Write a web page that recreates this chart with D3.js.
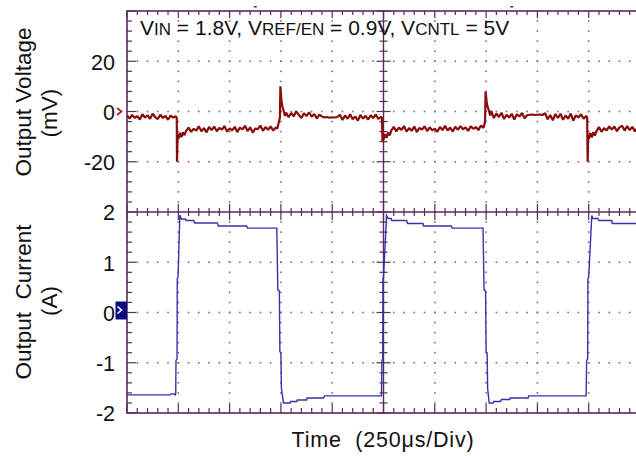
<!DOCTYPE html>
<html>
<head>
<meta charset="utf-8">
<script src="https://cdn.jsdelivr.net/npm/d3@7"></script>
<style>
body { margin: 0; background: #fff; }
svg { display: block; font-family: "Liberation Sans", Arial, sans-serif; }
</style>
</head>
<body>
<div id="chart"></div>
<script>
// time in divisions (250us/div), output voltage in mV
const voltage = [
  [0,-1.6],[0.05,-2.8],[0.1,-1.4],[0.15,-2.5],[0.2,-1.9],[0.25,-3.2],[0.3,-1.1],[0.35,-2.4],[0.4,-1.5],[0.45,-2.9],
  [0.5,-0.9],[0.55,-2.2],[0.6,-3.0],[0.65,-1.3],[0.7,-2.6],[0.75,-1.7],[0.8,-3.3],[0.85,-1.6],[0.9,-2.4],[0.95,-1.9],
  [0.97,-2.5],[0.975,-20],[0.985,-9],[1.0,-11],[1.03,-8.5],[1.06,-10.2],[1.09,-8.3],[1.12,-9.4],
  [1.15,-7.8],[1.2,-6.4],[1.25,-8.1],[1.3,-6.9],[1.35,-7.6],[1.4,-5.9],[1.45,-7.9],[1.5,-6.6],[1.55,-8.3],[1.6,-6.2],
  [1.65,-7.4],[1.7,-6.0],[1.75,-7.9],[1.8,-6.5],[1.85,-7.2],[1.9,-5.8],[1.95,-8.0],[2.0,-6.7],[2.05,-7.5],[2.1,-6.1],
  [2.15,-8.2],[2.2,-6.4],[2.25,-7.1],[2.3,-5.7],[2.35,-7.8],[2.4,-6.3],[2.45,-8.4],[2.5,-6.8],[2.55,-7.0],[2.6,-5.6],
  [2.65,-7.7],[2.7,-6.2],[2.75,-7.3],[2.8,-5.9],[2.85,-7.6],[2.9,-6.4],
  [2.93,-6.8],[2.96,-4.2],[2.98,-2.5],[2.99,10],[3.01,4.5],[3.03,2.0],[3.05,0.5],[3.08,-1.8],
  [3.1,-0.4],[3.15,-2.3],[3.2,-0.6],[3.25,-1.9],[3.3,0.1],[3.35,-1.4],[3.4,-2.6],[3.45,-0.7],[3.5,-1.8],[3.55,-0.3],
  [3.6,-2.1],[3.65,-1.0],[3.7,-2.8],[3.75,-1.2],[3.8,-2.0],[3.85,-2.4],[3.9,-2.2],[3.95,-2.5],[4.0,-2.3],[4.05,-2.4],
  [4.1,-2.2],[4.15,-1.3],[4.2,-3.4],[4.25,-1.6],[4.3,-2.9],[4.35,-1.1],[4.4,-3.1],[4.45,-2.0],[4.5,-3.6],[4.55,-1.4],
  [4.6,-2.8],[4.65,-1.7],[4.7,-3.2],[4.75,-1.5],[4.8,-2.6],[4.85,-1.2],[4.9,-3.0],[4.95,-2.1],
  [4.97,-2.5],[4.98,-12],[4.99,-8.5],[5.0,-11.2],[5.03,-9],[5.06,-10.5],[5.09,-8.4],[5.12,-9.5],
  [5.15,-7.6],[5.2,-6.1],[5.25,-7.9],[5.3,-6.4],[5.35,-7.3],[5.4,-5.8],[5.45,-8.0],[5.5,-6.6],[5.55,-7.7],[5.6,-6.0],
  [5.65,-8.2],[5.7,-6.5],[5.75,-7.2],[5.8,-5.9],[5.85,-7.8],[5.9,-6.3],[5.95,-7.5],[6.0,-6.8],[6.05,-8.1],[6.1,-6.2],
  [6.15,-7.4],[6.2,-5.7],[6.25,-7.6],[6.3,-6.4],[6.35,-8.0],[6.4,-6.1],[6.45,-7.3],[6.5,-5.8],[6.55,-7.1],[6.6,-6.3],
  [6.65,-7.7],[6.7,-5.9],[6.75,-6.9],[6.8,-6.2],[6.85,-7.4],[6.9,-5.6],[6.95,-6.5],
  [6.97,-5.0],[6.98,-3.5],[6.99,8],[7.01,4.0],[7.03,1.8],[7.05,0.6],[7.08,-1.6],[7.1,0.3],
  [7.15,-2.6],[7.2,-0.8],[7.25,-2.2],[7.3,-0.5],[7.35,-3.0],[7.4,-1.3],[7.45,-2.4],[7.5,-0.9],[7.55,-3.2],[7.6,-1.1],
  [7.65,-2.0],[7.7,-0.6],[7.75,-2.7],[7.8,-1.5],[7.85,-1.3],[7.9,-1.2],[7.95,-1.4],[8.0,-1.3],[8.05,-1.2],[8.1,-1.4],
  [8.15,-0.7],[8.2,-3.1],[8.25,-1.4],[8.3,-3.5],[8.35,-1.0],[8.4,-2.6],[8.45,-0.9],[8.5,-3.3],[8.55,-1.6],[8.6,-2.9],
  [8.65,-0.8],[8.7,-3.6],[8.75,-1.5],[8.8,-2.4],[8.85,-1.1],[8.9,-2.9],[8.95,-1.8],
  [8.97,-2.3],[8.98,-20],[8.99,-9.5],[9.0,-11],[9.03,-8.6],[9.06,-10.3],[9.09,-8.2],[9.12,-9.6],
  [9.15,-7.9],[9.2,-6.2],[9.25,-8.1],[9.3,-6.6],[9.35,-7.5],[9.4,-5.9],[9.45,-7.2],[9.5,-6.0],[9.55,-7.8],[9.6,-6.3],
  [9.65,-5.7],[9.7,-7.6],[9.75,-5.8],[9.8,-7.4],[9.85,-6.1],[9.9,-7.9],[9.95,-6.4],[10,-7.0]
];

// time in divisions, output current in A
const current = [
  [0,-1.64],[0.84,-1.64],[0.86,-1.62],[0.92,-1.62],[0.94,-1.64],[0.95,-1.62],[0.955,-0.95],[0.975,-0.93],
  [0.98,0.68],[0.995,0.7],[1.03,1.94],[1.06,1.86],[1.14,1.86],[1.15,1.83],[1.3,1.83],[1.32,1.78],[1.76,1.78],
  [1.78,1.72],[2.33,1.72],[2.35,1.68],[2.92,1.68],[2.94,0.45],[2.97,0.43],[2.98,-0.78],[3.0,-0.8],[3.01,-1.51],
  [3.05,-1.80],[3.18,-1.80],[3.19,-1.77],[3.31,-1.77],[3.32,-1.74],[3.5,-1.74],[3.51,-1.70],[3.83,-1.70],
  [3.85,-1.66],[4.96,-1.66],[4.97,-0.95],[4.985,-0.93],[4.99,0.68],[5.0,0.7],[5.06,1.93],[5.09,1.87],
  [5.15,1.87],[5.16,1.83],[5.45,1.83],[5.47,1.77],[5.77,1.77],[5.78,1.72],[6.32,1.72],[6.34,1.68],[6.94,1.68],
  [6.96,0.45],[6.99,0.43],[7.0,-0.78],[7.02,-0.8],[7.03,-1.51],[7.06,-1.80],[7.14,-1.80],[7.15,-1.77],
  [7.28,-1.77],[7.3,-1.73],[7.46,-1.73],[7.47,-1.70],[7.82,-1.70],[7.83,-1.66],[8.95,-1.66],[8.96,-0.95],
  [8.98,-0.93],[8.985,0.68],[9.0,0.7],[9.06,1.93],[9.08,1.87],[9.18,1.87],[9.2,1.83],[9.45,1.83],[9.46,1.77],
  [10,1.77]
];

const voltTicks = [20, 0, -20];
const currTicks = [2, 1, 0, -1, -2];

const width = 636, height = 456;
const frameColor = "#5a2a5c";

const svg = d3.select("#chart").append("svg")
  .attr("width", width)
  .attr("height", height);

// scope screen: 10 horizontal divisions, 8 vertical
const x = d3.scaleLinear().domain([0, 10]).range([127, 640]);
const gy = d3.scaleLinear().domain([0, 8]).range([11, 413]);
const yV = d3.scaleLinear().domain([-40, 40]).range([gy(4), gy(0)]);
const yI = d3.scaleLinear().domain([-2, 2]).range([gy(8), gy(4)]);

const minorX = d3.range(0, 51).map(k => k / 5);
const minorY = d3.range(0, 41).map(k => k / 5);

// dotted grid
const grid = svg.append("g").attr("fill", "#8e5e90");
[1, 2, 3, 4, 6, 7, 8, 9].forEach(i => {
  grid.selectAll(null).data(minorY.slice(1, -1)).enter().append("rect")
    .attr("x", x(i) - 0.8).attr("y", d => gy(d) - 0.8)
    .attr("width", 1.6).attr("height", 1.6);
});
[1, 2, 3, 5, 6, 7].forEach(j => {
  grid.selectAll(null).data(minorX.slice(1, -1)).enter().append("rect")
    .attr("x", d => x(d) - 0.8).attr("y", gy(j) - 0.8)
    .attr("width", 1.6).attr("height", 1.6);
});

// frame, centre lines and their ticks
const frame = svg.append("g").attr("stroke", frameColor).attr("fill", "none");
frame.append("rect")
  .attr("x", x(0)).attr("y", gy(0))
  .attr("width", x(10) - x(0)).attr("height", gy(8) - gy(0))
  .attr("stroke-width", 1.6);
frame.append("line").attr("x1", x(0)).attr("x2", x(10)).attr("y1", gy(4)).attr("y2", gy(4)).attr("stroke-width", 1.4);
frame.append("line").attr("x1", x(5)).attr("x2", x(5)).attr("y1", gy(0)).attr("y2", gy(8)).attr("stroke-width", 1.4);

const len = (d, minor, major) => (Math.abs(d - Math.round(d)) < 1e-6 ? major : minor);

frame.selectAll(".tl").data(minorY).enter().append("line")
  .attr("x1", x(0)).attr("x2", d => x(0) + len(d, 5, 9))
  .attr("y1", d => gy(d)).attr("y2", d => gy(d)).attr("stroke-width", 1.2);
frame.selectAll(".tt").data(minorX).enter().append("line")
  .attr("x1", d => x(d)).attr("x2", d => x(d))
  .attr("y1", gy(0)).attr("y2", d => gy(0) + len(d, 4, 7)).attr("stroke-width", 1.2);
frame.selectAll(".tb").data(minorX).enter().append("line")
  .attr("x1", d => x(d)).attr("x2", d => x(d))
  .attr("y1", gy(8)).attr("y2", d => gy(8) - len(d, 5, 9)).attr("stroke-width", 1.2);
frame.selectAll(".tch").data(minorX).enter().append("line")
  .attr("x1", d => x(d)).attr("x2", d => x(d))
  .attr("y1", d => gy(4) - len(d, 4, 8)).attr("y2", d => gy(4) + len(d, 4, 8)).attr("stroke-width", 1.2);
frame.selectAll(".tcv").data(minorY).enter().append("line")
  .attr("x1", d => x(5) - len(d, 4, 7)).attr("x2", d => x(5) + len(d, 4, 7))
  .attr("y1", d => gy(d)).attr("y2", d => gy(d)).attr("stroke-width", 1.2);

// small markers above the screen
svg.append("g").attr("fill", "#4a2a4a").selectAll("rect").data([2.5, 7.5]).enter().append("rect")
  .attr("x", d => x(d) - 1.5).attr("y", 6).attr("width", 3).attr("height", 1.5);

// traces
svg.append("clipPath").attr("id", "screen").append("rect")
  .attr("x", x(0)).attr("y", gy(0)).attr("width", x(10) - x(0)).attr("height", gy(8) - gy(0));

const plot = svg.append("g").attr("clip-path", "url(#screen)");

plot.append("path")
  .datum(current)
  .attr("fill", "none")
  .attr("stroke", "#3434a8")
  .attr("stroke-width", 1.4)
  .attr("d", d3.line().x(d => x(d[0])).y(d => yI(d[1])));

plot.append("path")
  .datum(voltage)
  .attr("fill", "none")
  .attr("stroke", "#880c0c")
  .attr("stroke-width", 2.2)
  .attr("stroke-linejoin", "bevel")
  .attr("d", d3.line().x(d => x(d[0])).y(d => yV(d[1])));

// tick labels
const fmt = d => String(d);
const vAxis = svg.append("g")
  .attr("transform", `translate(${x(0)},0)`)
  .call(d3.axisLeft(yV).tickValues(voltTicks).tickFormat(fmt).tickSize(0).tickPadding(12));
const iAxis = svg.append("g")
  .attr("transform", `translate(${x(0)},0)`)
  .call(d3.axisLeft(yI).tickValues(currTicks).tickFormat(fmt).tickSize(0).tickPadding(12));
[vAxis, iAxis].forEach(a => {
  a.select(".domain").remove();
  a.selectAll("text")
    .attr("font-family", "'Liberation Sans', Arial, sans-serif")
    .attr("font-size", 21.5)
    .attr("fill", "#111")
    .attr("dy", "0.36em");
});

// channel reference markers
svg.append("path")
  .attr("d", `M117,${yV(0) - 3.5} L121.5,${yV(0)} L117,${yV(0) + 3.5}`)
  .attr("fill", "none").attr("stroke", "#a81818").attr("stroke-width", 1.6);
svg.append("rect")
  .attr("x", 115.5).attr("y", yI(0) - 11).attr("width", 11.5).attr("height", 18)
  .attr("fill", "#0c0c84");
svg.append("path")
  .attr("d", `M117.5,${yI(0) - 6} L121.5,${yI(0) - 2.5} L117.5,${yI(0) + 1}`)
  .attr("fill", "none").attr("stroke", "#fff").attr("stroke-width", 1.6);

// axis titles
const yTitle = (txt, bx, cy) => svg.append("text")
  .attr("transform", `translate(${bx},${cy}) rotate(-90)`)
  .attr("text-anchor", "middle")
  .attr("font-size", 22.5)
  .attr("fill", "#111")
  .text(txt);
yTitle("Output Voltage", 31, 102);
yTitle("(mV)", 57, 113);
yTitle("Output\u00a0 Current", 31, 302);
yTitle("(A)", 57, 301);

svg.append("text")
  .attr("x", 383).attr("y", 447)
  .attr("text-anchor", "middle")
  .attr("font-size", 21.5)
  .attr("letter-spacing", 0.8)
  .attr("fill", "#111")
  .text("Time\u00a0 (250\u03bcs/Div)");

// conditions
const title = svg.append("text")
  .attr("x", 140).attr("y", 35)
  .attr("font-size", 21)
  .attr("fill", "#111");
[["V", 21], ["IN", 17], [" = 1.8V, V", 21], ["REF/EN", 17], [" = 0.9V, V", 21], ["CNTL", 17], [" = 5V", 21]]
  .forEach(([t, s]) => title.append("tspan").attr("font-size", s).text(t));
</script>
</body>
</html>
